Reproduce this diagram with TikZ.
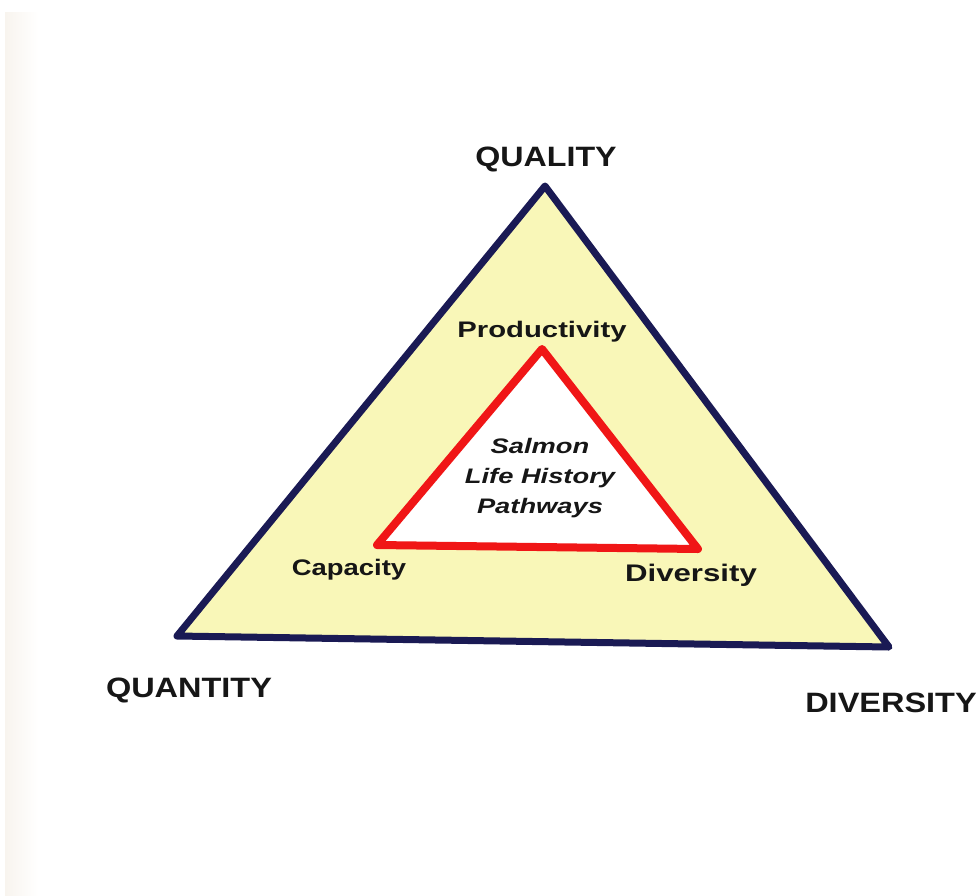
\documentclass[tikz,border=0pt]{standalone}
\usepackage{fontspec}
\setmainfont{Liberation Sans}
\usepackage{graphicx}
\definecolor{fillyel}{RGB}{249,247,184}
\definecolor{navyline}{RGB}{26,26,84}
\definecolor{redline}{RGB}{240,22,22}
\definecolor{inkk}{RGB}{22,22,22}
\definecolor{paper}{RGB}{248,244,238}
\tikzset{
  outertri/.style={draw=navyline, fill=fillyel, line width=7pt, line join=round},
  innertri/.style={draw=redline, fill=white, line width=8pt, line join=round},
  biglabel/.style={text=inkk, inner sep=0pt, anchor=base, font=\fontsize{28}{30}\selectfont\bfseries},
  smalllabel/.style={text=inkk, inner sep=0pt, anchor=base, font=\fontsize{22.5}{26}\selectfont\bfseries},
  centrelabel/.style={text=inkk, inner sep=0pt, anchor=base, font=\fontsize{21}{30}\selectfont\bfseries\itshape}
}
\begin{document}
\begin{tikzpicture}[x=1pt,y=-1pt]
\useasboundingbox (0,0) rectangle (980,895);
\fill[white] (0,0) rectangle (980,895);
\shade[left color=paper, right color=white] (5,12) rectangle (38,895);
% outer triangle
\coordinate (qa) at (545,186);
\coordinate (qn) at (177,636);
\coordinate (dv) at (889,647);
\draw[outertri] (qa) -- (qn) -- (dv) -- cycle;
% inner triangle
\coordinate (pr) at (542,349);
\coordinate (ca) at (377,545);
\coordinate (di) at (698,549);
\draw[innertri] (pr) -- (ca) -- (di) -- cycle;
% labels
\node[biglabel] (quality) at (546,166) {\scalebox{1.15}[1]{QUALITY}};
\node[biglabel] (quantity) at (189,697) {\scalebox{1.16}[1]{QUANTITY}};
\node[biglabel] (diversityout) at (891,712) {\scalebox{1.16}[1]{DIVERSITY}};
\node[smalllabel] (productivity) at (542,337) {\scalebox{1.3}[1]{Productivity}};
\node[smalllabel] (capacity) at (349,575) {\scalebox{1.22}[1]{Capacity}};
\node[smalllabel, font=\fontsize{24}{26}\selectfont\bfseries] (diversityin) at (691,581) {\scalebox{1.3}[1]{Diversity}};
\node[centrelabel] (salmon) at (540,453) {\scalebox{1.3}[1]{\setlength{\tabcolsep}{0pt}\begin{tabular}[t]{c}Salmon\\Life History\\Pathways\end{tabular}}};
\end{tikzpicture}
\end{document}
